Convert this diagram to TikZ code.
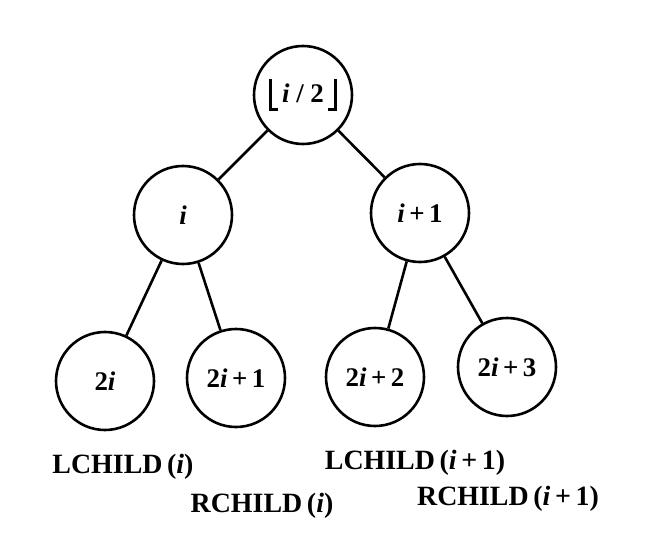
\documentclass[tikz,border=0pt]{standalone}
\usepackage{fontspec}
\setmainfont{Liberation Serif}
\begin{document}
\begin{tikzpicture}[x=1bp,y=-1bp,
  tnode/.style={circle,draw,line width=2.6bp,minimum size=98bp,inner sep=0pt,font=\fontsize{27}{30}\selectfont\bfseries},
  edge/.style={line width=2.6bp},
  lab/.style={font=\fontsize{28}{32}\selectfont\bfseries,inner sep=0pt}]
\useasboundingbox (0,0) rectangle (648,534);
\newcommand{\vi}{\textit{i}}
\newcommand{\pl}{\,+\,}
\newcommand{\lfl}{\rule[-8bp]{3bp}{32bp}\rule[-8bp]{6bp}{3bp}}
\newcommand{\rfl}{\rule[-8bp]{6bp}{3bp}\rule[-8bp]{3bp}{32bp}}
\node[tnode] (r) at (303,95) {\lfl\,\vi\ /\ 2\,\rfl};
\node[tnode] (a) at (183,215) {\vi};
\node[tnode] (b) at (420,213) {\vi\pl1};
\node[tnode] (c) at (105,381) {2\vi};
\node[tnode] (d) at (236,378) {2\vi\pl1};
\node[tnode] (e) at (375,377) {2\vi\pl2};
\node[tnode] (f) at (507,367) {2\vi\pl3};
\draw[edge] (r) -- (a);
\draw[edge] (r) -- (b);
\draw[edge] (a) -- (c);
\draw[edge] (a) -- (d);
\draw[edge] (b) -- (e);
\draw[edge] (b) -- (f);
\node[lab] (l1) at (123,467) {LCHILD\,(\vi)};
\node[lab] (l2) at (262,506) {RCHILD\,(\vi)};
\node[lab] (l3) at (415,463) {LCHILD\,(\vi\pl1)};
\node[lab] (l4) at (508,499) {RCHILD\,(\vi\pl1)};
\end{tikzpicture}
\end{document}
